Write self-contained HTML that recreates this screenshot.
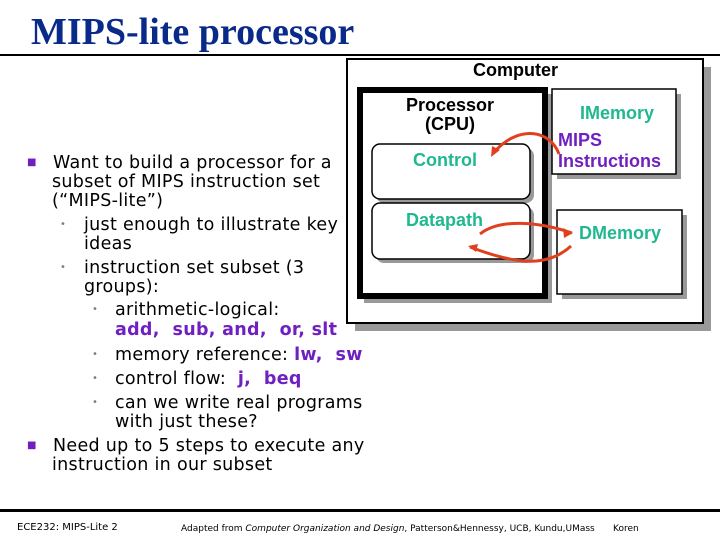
<!DOCTYPE html>
<html><head><meta charset="utf-8"><style>
body{margin:0;width:720px;height:540px;background:#fff;position:relative;overflow:hidden;font-family:"DejaVu Sans",Verdana,sans-serif}
.t{position:absolute;white-space:nowrap;font-size:17.5px;letter-spacing:0.3px;color:#000;line-height:18px}
.p{color:#7020c0;font-weight:bold}
.b{position:absolute}
.s{color:#808080}
.h{font-family:"Liberation Sans",Arial,sans-serif;font-weight:bold;position:absolute;white-space:nowrap;font-size:18px}
.g{color:#20b890}
</style></head><body>
<div style="position:absolute;left:31px;top:10px;font-family:'Liberation Serif',serif;font-weight:bold;font-size:38px;line-height:44px;color:#0a2a8a">MIPS-lite processor</div>
<div style="position:absolute;left:0;top:54px;width:720px;height:2px;background:#000"></div>
<div style="position:absolute;left:0;top:509px;width:720px;height:3px;background:#000"></div>

<svg class="b" style="left:0;top:0" width="720" height="540">
<rect x="355" y="67" width="356" height="264" fill="#999"/>
<rect x="347" y="59" width="356" height="264" fill="#fff" stroke="#000" stroke-width="2"/>
<rect x="364" y="94" width="188" height="209" fill="#999"/>
<rect x="360" y="90" width="185" height="206" fill="#fff" stroke="#000" stroke-width="6"/>
<rect x="376" y="148" width="158" height="55" rx="8" fill="#999"/>
<rect x="372" y="144" width="158" height="55" rx="8" fill="#fff" stroke="#000" stroke-width="1.5"/>
<rect x="376" y="207" width="158" height="56" rx="8" fill="#999"/>
<rect x="372" y="203" width="158" height="56" rx="8" fill="#fff" stroke="#000" stroke-width="1.5"/>
<rect x="557" y="94" width="124" height="85" fill="#999"/>
<rect x="552" y="89" width="124" height="85" fill="#fff" stroke="#000" stroke-width="1.5"/>
<rect x="562" y="215" width="125" height="84" fill="#999"/>
<rect x="557" y="210" width="125" height="84" fill="#fff" stroke="#000" stroke-width="1.5"/>
<g stroke="#e04020" stroke-width="3" fill="none">
<path d="M559,154 C550,130 520,125 496,150"/>
<path d="M480,234 C500,218 540,222 572,233"/>
<path d="M571,246 C545,270 510,262 470,247"/>
</g>
<g fill="#e04020">
<polygon points="491,157 492,146 500,150"/>
<polygon points="573,233 563,228 564,238"/>
<polygon points="468,246 478,244 476,252"/>
</g>
</svg>
<div class="h" style="left:473px;top:60px">Computer</div>
<div class="h" style="left:406px;top:96px;text-align:center;line-height:19px">Processor<br>(CPU)</div>
<div class="h g" style="left:413px;top:150px">Control</div>
<div class="h g" style="left:406px;top:210px">Datapath</div>
<div class="h g" style="left:580px;top:103px">IMemory</div>
<div class="h p" style="left:558px;top:130px;line-height:21px">MIPS<br>Instructions</div>
<div class="h g" style="left:579px;top:223px">DMemory</div>

<div class="t" style="left:27px;top:154px;font-size:10px;color:#7020c0">■</div>
<div class="t" style="left:53px;top:154px">Want to build a processor for a</div>
<div class="t" style="left:52px;top:173px">subset of MIPS instruction set</div>
<div class="t" style="left:52px;top:192px">(“MIPS-lite”)</div>
<div class="t s" style="left:60px;top:216px;font-size:10px">•</div>
<div class="t" style="left:84px;top:216px">just enough to illustrate key</div>
<div class="t" style="left:84px;top:235px">ideas</div>
<div class="t s" style="left:60px;top:259px;font-size:10px">•</div>
<div class="t" style="left:84px;top:259px">instruction set subset (3</div>
<div class="t" style="left:84px;top:278px">groups):</div>
<div class="t s" style="left:92px;top:301px;font-size:10px">•</div>
<div class="t" style="left:115px;top:301px">arithmetic-logical:</div>
<div class="t p" style="left:115px;top:321px">add,&nbsp; sub, and,&nbsp; or, slt</div>
<div class="t s" style="left:92px;top:346px;font-size:10px">•</div>
<div class="t" style="left:115px;top:346px">memory reference: <span class="p">lw,&nbsp; sw</span></div>
<div class="t s" style="left:92px;top:370px;font-size:10px">•</div>
<div class="t" style="left:115px;top:370px">control flow:&nbsp; <span class="p">j,&nbsp; beq</span></div>
<div class="t s" style="left:92px;top:394px;font-size:10px">•</div>
<div class="t" style="left:115px;top:394px">can we write real programs</div>
<div class="t" style="left:115px;top:413px">with just these?</div>
<div class="t" style="left:27px;top:437px;font-size:10px;color:#7020c0">■</div>
<div class="t" style="left:53px;top:437px">Need up to 5 steps to execute any</div>
<div class="t" style="left:52px;top:456px">instruction in our subset</div>

<div class="t" style="left:17px;top:519px;font-size:10px;letter-spacing:0">ECE232: MIPS-Lite 2</div>
<div class="t" style="left:181px;top:520px;font-size:9px;letter-spacing:0">Adapted from <i>Computer Organization and Design</i>, Patterson&amp;Hennessy, UCB, Kundu,UMass</div>
<div class="t" style="left:613px;top:520px;font-size:9px;letter-spacing:0">Koren</div>
</body></html>
